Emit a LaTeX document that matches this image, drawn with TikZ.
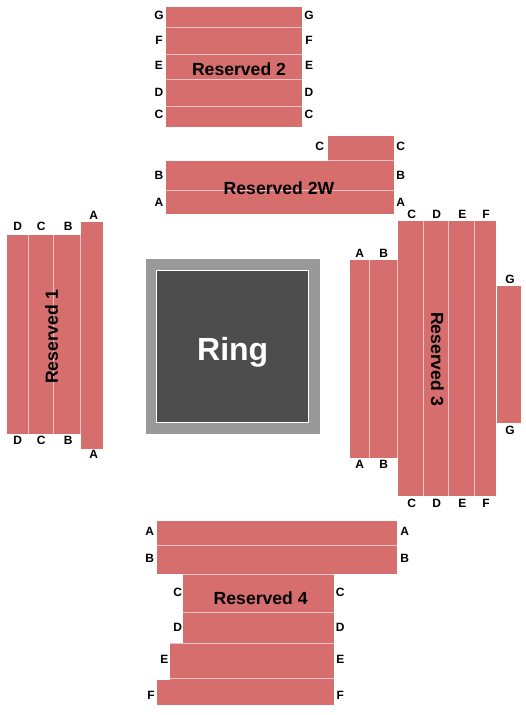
\documentclass[tikz,border=0pt]{standalone}
\usepackage{fontspec}
\setmainfont{Liberation Sans}
\definecolor{seat}{HTML}{D76E6E}
\definecolor{sep}{HTML}{F0C4C4}
\definecolor{ringouter}{HTML}{999999}
\definecolor{ringinner}{HTML}{4D4D4D}
\tikzset{
  seatblock/.style={fill=seat,draw=none},
  rowline/.style={draw=sep,line width=0.8pt},
  rowlabel/.style={inner sep=0pt,font=\fontsize{12}{12}\selectfont\bfseries,text=black},
  titlelabel/.style={inner sep=0pt,font=\fontsize{17.6}{18}\selectfont\bfseries,text=black}
}
\newcommand{\blk}[4]{\fill[seatblock] (#1,#2) rectangle (#3,#4);}
\newcommand{\hsep}[3]{\draw[rowline] (#1,#3) -- (#2,#3);}
\newcommand{\vsep}[3]{\draw[rowline] (#3,#1) -- (#3,#2);}
\newcommand{\lbl}[4]{\node[rowlabel] (#1) at (#2,#3) {#4};}
\begin{document}
\begin{tikzpicture}[x=1pt,y=-1pt]
\useasboundingbox (0,0) rectangle (525,715);
% Reserved 2
\blk{166}{7}{302}{127}
\foreach \yy in {27.3,54.3,79.3,106.3} {\hsep{166}{302}{\yy}}
% Reserved 2W
\blk{328}{136}{394}{161}
\blk{166}{161}{394}{214}
\hsep{328}{394}{160.7}
\hsep{166}{394}{190.7}
% Reserved 1
\blk{7}{235}{81}{434}
\blk{81}{222}{103}{449}
\foreach \xx in {28.3,53.3} {\vsep{235}{434}{\xx}}
\vsep{235}{434}{80.5}
% Ring
\fill[ringouter] (146,259) rectangle (320,434);
\draw[fill=ringinner,draw=white,line width=0.8pt] (156.5,270.5) rectangle (308.5,422.5);
% Reserved 3
\blk{350}{260}{398}{458}
\blk{398}{221}{496}{496}
\blk{496.5}{286}{521}{423}
\vsep{260}{458}{369.3}
\vsep{260}{458}{397.5}
\foreach \xx in {423.3,448.3,474.3} {\vsep{221}{496}{\xx}}
% Reserved 4
\blk{157}{521}{397}{574}
\blk{183}{574}{334}{644}
\blk{170}{644}{334}{680}
\blk{157}{680}{334}{705}
\hsep{157}{397}{545}
\hsep{183}{334}{574.3}
\hsep{183}{334}{612.3}
\hsep{170}{334}{643.5}
\hsep{170}{334}{678.3}
% Titles
\node[titlelabel] (t2) at (239,69) {Reserved 2};
\node[titlelabel] (t2w) at (279,188.7) {Reserved 2W};
\node[titlelabel,rotate=90] (t1) at (51.7,337) {Reserved 1};
\node[titlelabel,rotate=-90] (t3) at (437.3,359) {Reserved 3};
\node[titlelabel] (t4) at (260.7,598.3) {Reserved 4};
\node[inner sep=0pt,anchor=base,text=white,font=\fontsize{32}{32}\selectfont\bfseries] (ring) at (232.7,360) {Ring};
% Reserved 2 rows
\lbl{aGl}{159}{15.7}{G}\lbl{aGr}{309}{15.7}{G}
\lbl{aFl}{159}{40.7}{F}\lbl{aFr}{309}{40.7}{F}
\lbl{aEl}{159}{65.7}{E}\lbl{aEr}{309}{65.7}{E}
\lbl{aDl}{159}{92.7}{D}\lbl{aDr}{309}{92.7}{D}
\lbl{aCl}{159}{114.3}{C}\lbl{aCr}{309}{114.3}{C}
% Reserved 2W rows
\lbl{bCl}{319.7}{146.7}{C}\lbl{bCr}{400.7}{146.7}{C}
\lbl{bBl}{159}{175.7}{B}\lbl{bBr}{400.7}{175.7}{B}
\lbl{bAl}{159}{202}{A}\lbl{bAr}{400.7}{202}{A}
% Reserved 1 rows
\lbl{cDt}{17.7}{226.7}{D}\lbl{cDb}{17.7}{440.7}{D}
\lbl{cCt}{41.3}{226.7}{C}\lbl{cCb}{41.3}{440.7}{C}
\lbl{cBt}{68.3}{226.7}{B}\lbl{cBb}{68.3}{440.7}{B}
\lbl{cAt}{93.7}{215}{A}\lbl{cAb}{93.7}{454.3}{A}
% Reserved 3 rows
\lbl{dAt}{359.7}{253.7}{A}\lbl{dAb}{359.7}{464.7}{A}
\lbl{dBt}{383.7}{253.7}{B}\lbl{dBb}{383.7}{464.7}{B}
\lbl{dCt}{411.7}{214}{C}\lbl{dCb}{411.7}{503.7}{C}
\lbl{dDt}{436.7}{214}{D}\lbl{dDb}{436.7}{503.7}{D}
\lbl{dEt}{462.3}{214}{E}\lbl{dEb}{462.3}{503.7}{E}
\lbl{dFt}{486}{214}{F}\lbl{dFb}{486}{503.7}{F}
\lbl{dGt}{510}{279}{G}\lbl{dGb}{510}{430}{G}
% Reserved 4 rows
\lbl{eAl}{149.7}{531.7}{A}\lbl{eAr}{404.7}{531.7}{A}
\lbl{eBl}{149.7}{558.7}{B}\lbl{eBr}{404.7}{558.7}{B}
\lbl{eCl}{177.7}{592.3}{C}\lbl{eCr}{340.3}{592.3}{C}
\lbl{eDl}{177.7}{627.3}{D}\lbl{eDr}{340.3}{627.3}{D}
\lbl{eEl}{164.3}{659.7}{E}\lbl{eEr}{340.3}{659.7}{E}
\lbl{eFl}{151}{695}{F}\lbl{eFr}{340.3}{695}{F}
\end{tikzpicture}
\end{document}
